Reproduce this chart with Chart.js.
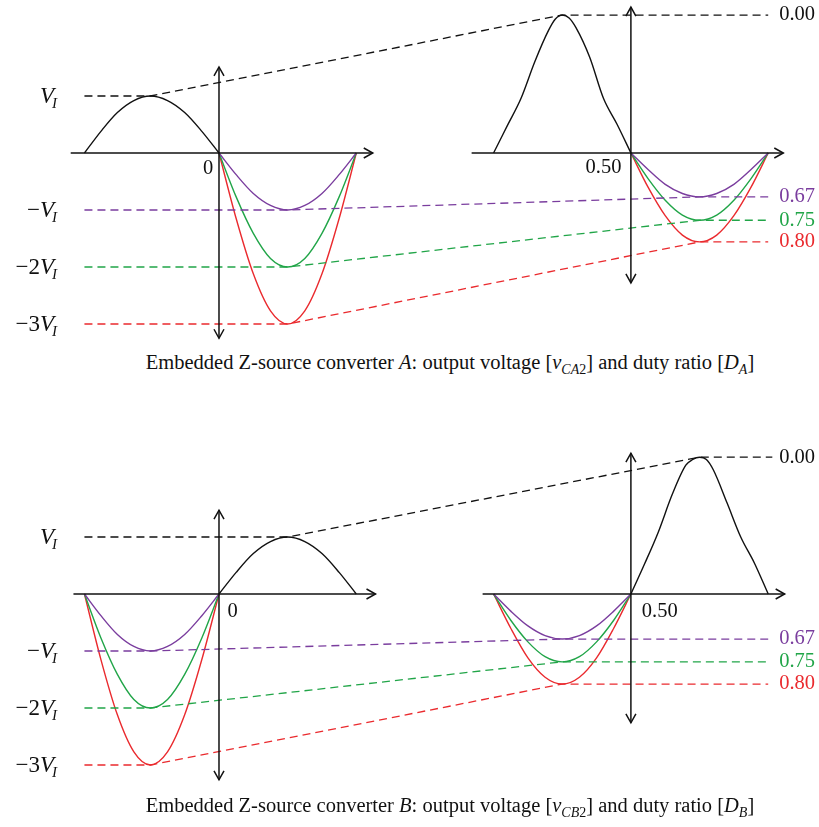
<!DOCTYPE html>
<html>
<head>
<meta charset="utf-8">
<script src="https://cdn.jsdelivr.net/npm/chart.js@4.4.1/dist/chart.umd.min.js"></script>
<style>
  body { margin: 0; background: #fff; width: 819px; height: 827px; position: relative; overflow: hidden; }
  canvas { position: absolute; left: 0; }
  #panel-a { top: 0; }
  #panel-b { top: 400px; }
  .caption { position: absolute; left: 0; width: 900px; text-align: center; font-family: "Liberation Serif", serif; font-size: 20.5px; color: #111; white-space: nowrap; }
  .caption sub { font-size: 14px; }
  #cap-a { top: 351px; }
  #cap-b { top: 794px; }
</style>
</head>
<body>
<canvas id="panel-a" width="819" height="350"></canvas>
<canvas id="panel-b" width="819" height="400"></canvas>
<div class="caption" id="cap-a">Embedded Z-source converter <i>A</i>: output voltage [<i>v</i><sub><i>CA</i>2</sub>] and duty ratio [<i>D</i><sub><i>A</i></sub>]</div>
<div class="caption" id="cap-b">Embedded Z-source converter <i>B</i>: output voltage [<i>v</i><sub><i>CB</i>2</sub>] and duty ratio [<i>D</i><sub><i>B</i></sub>]</div>
<script>
// x in half-periods (left plot origin at 0, duty plot origin at 3), y in units of V_I
const phaseNeg = [-0.98, -0.86, -0.74, -0.62, -0.5, -0.375, -0.25, -0.125, 0];
const phasePos = [0, 0.125, 0.25, 0.375, 0.5, 0.625, 0.75, 0.875, 1];
const phaseDutyNeg = [2, 2.125, 2.25, 2.375, 2.5, 2.625, 2.75, 2.875, 3];
const phaseDutyPos = [3, 3.125, 3.25, 3.375, 3.5, 3.625, 3.75, 3.875, 4];

const inputWave = [0, 0.38, 0.71, 0.92, 1, 0.92, 0.71, 0.38, 0];
const outPurple = [0, -0.38, -0.71, -0.92, -1, -0.92, -0.71, -0.38, 0];
const outGreen = [0, -0.77, -1.41, -1.85, -2, -1.85, -1.41, -0.77, 0];
const outRed = [0, -1.15, -2.12, -2.77, -3, -2.77, -2.12, -1.15, 0];

// duty-ratio plots
const dutyA_purple = [0, -0.29, -0.55, -0.71, -0.77, -0.71, -0.55, -0.29, 0];
const dutyA_green = [0, -0.45, -0.83, -1.09, -1.18, -1.09, -0.83, -0.45, 0];
const dutyA_red = [0, -0.6, -1.1, -1.44, -1.56, -1.44, -1.1, -0.6, 0];
const dutyB_purple = [0, -0.3, -0.56, -0.73, -0.79, -0.73, -0.56, -0.3, 0];
const dutyB_green = [0, -0.46, -0.84, -1.1, -1.19, -1.1, -0.84, -0.46, 0];
const dutyB_red = [0, -0.6, -1.12, -1.46, -1.58, -1.46, -1.12, -0.6, 0];

const bumpA_x = [2, 2.1, 2.2, 2.3, 2.4, 2.45, 2.5, 2.55, 2.6, 2.7, 2.8, 2.9, 3];
const bumpA_y = [0, 0.48, 0.96, 1.6, 2.15, 2.35, 2.42, 2.37, 2.2, 1.68, 0.96, 0.5, 0];
const bumpB_x = [3, 3.1, 3.2, 3.3, 3.4, 3.45, 3.5, 3.55, 3.6, 3.7, 3.8, 3.9, 4];
const bumpB_y = [0, 0.53, 1.09, 1.74, 2.26, 2.36, 2.4, 2.36, 2.18, 1.6, 1.0, 0.54, 0];

// dashed guide lines: level in left plot -> level in duty plot
const dutyLabels = ['0.00', '0.67', '0.75', '0.80'];
const guideA_x = [[-0.98, -0.5, 2.5, 4], [-0.98, 0.5, 3.5, 4], [-0.98, 0.5, 3.5, 4], [-0.98, 0.5, 3.5, 4]];
const guideA_y = [[1, 1, 2.42, 2.42], [-1, -1, -0.77, -0.77], [-2, -2, -1.18, -1.18], [-3, -3, -1.56, -1.56]];
const guideB_x = [[-0.98, 0.5, 3.5, 4.03], [-0.98, -0.5, 2.5, 4], [-0.98, -0.5, 2.5, 4], [-0.98, -0.5, 2.5, 4]];
const guideB_y = [[1, 1, 2.4, 2.4], [-1, -1, -0.79, -0.79], [-2, -2, -1.19, -1.19], [-3, -3, -1.58, -1.58]];

const levelTicks = [1, -1, -2, -3];
const levelPrefix = ['', '\u2212', '\u22122', '\u22123'];

const BLACK = '#111111';
const PURPLE = '#7a3d9e';
const GREEN = '#21a548';
const RED = '#ea2a2e';
const levelColors = [BLACK, PURPLE, GREEN, RED];

function pts(xs, ys) {
    return xs.map((x, i) => ({ x: x, y: ys[i] }));
}

function curve(xs, ys, color) {
    return {
        data: pts(xs, ys),
        borderColor: color,
        borderWidth: 1.4,
        pointRadius: 0,
        showLine: true,
        fill: false,
        cubicInterpolationMode: 'monotone'
    };
}

function guide(xs, ys, color) {
    return {
        data: pts(xs, ys),
        borderColor: color,
        borderWidth: 1.3,
        borderDash: [8, 5],
        pointRadius: 0,
        showLine: true,
        fill: false,
        tension: 0
    };
}

function arrowHead(ctx, tx, ty, fx, fy) {
    const len = Math.hypot(tx - fx, ty - fy);
    const dx = (tx - fx) / len, dy = (ty - fy) / len;
    const L = 9, W = 5;
    ctx.beginPath();
    ctx.moveTo(tx - L * dx - W * dy, ty - L * dy + W * dx);
    ctx.lineTo(tx, ty);
    ctx.lineTo(tx - L * dx + W * dy, ty - L * dy - W * dx);
    ctx.stroke();
}

// axes with arrows and all the figure's labels
const figurePlugin = {
    id: 'figure',
    afterDatasetsDraw(chart, args, opts) {
        const ctx = chart.ctx;
        const sx = chart.scales.x, sy = chart.scales.y;
        ctx.save();
        ctx.strokeStyle = BLACK;
        ctx.lineWidth = 1.5;
        opts.axes.forEach(a => {
            const x0 = sx.getPixelForValue(a[0]), y0 = sy.getPixelForValue(a[1]);
            const x1 = sx.getPixelForValue(a[2]), y1 = sy.getPixelForValue(a[3]);
            ctx.beginPath();
            ctx.moveTo(x0, y0);
            ctx.lineTo(x1, y1);
            ctx.stroke();
            arrowHead(ctx, x1, y1, x0, y0);
            if (a[4]) arrowHead(ctx, x0, y0, x1, y1);
        });

        // V_I level labels, right aligned
        ctx.fillStyle = BLACK;
        ctx.textBaseline = 'alphabetic';
        const right = sx.getPixelForValue(-1.18);
        levelTicks.forEach((v, i) => {
            const base = sy.getPixelForValue(v) + 7;
            ctx.font = '23px "Liberation Serif"';
            const wPre = ctx.measureText(levelPrefix[i]).width;
            ctx.font = 'italic 23px "Liberation Serif"';
            const wV = ctx.measureText('V').width;
            ctx.font = 'italic 15px "Liberation Serif"';
            const wI = ctx.measureText('I').width;
            let x = right - wI - wV - wPre + 2;
            ctx.font = '23px "Liberation Serif"';
            ctx.textAlign = 'left';
            ctx.fillText(levelPrefix[i], x, base);
            x += wPre;
            ctx.font = 'italic 23px "Liberation Serif"';
            ctx.fillText('V', x, base);
            x += wV - 2;
            ctx.font = 'italic 15px "Liberation Serif"';
            ctx.fillText('I', x, base + 5);
        });

        // duty ratio labels
        ctx.font = '20.5px "Liberation Serif"';
        ctx.textAlign = 'left';
        ctx.textBaseline = 'middle';
        opts.dutyLevels.forEach((v, i) => {
            ctx.fillStyle = levelColors[i];
            ctx.fillText(dutyLabels[i], sx.getPixelForValue(4.08), sy.getPixelForValue(v));
        });

        // origin labels
        ctx.fillStyle = BLACK;
        ctx.textAlign = 'center';
        opts.marks.forEach(m => {
            ctx.fillText(m[0], sx.getPixelForValue(m[1]), sy.getPixelForValue(m[2]));
        });
        ctx.restore();
    }
};

function makePanel(id, yMin, yMax, datasets, opts) {
    return new Chart(document.getElementById(id), {
        type: 'scatter',
        data: { datasets: datasets },
        options: {
            responsive: false,
            animation: false,
            layout: { padding: 0 },
            scales: {
                x: { type: 'linear', min: -1.595, max: 4.37, display: false },
                y: { type: 'linear', min: yMin, max: yMax, display: false }
            },
            plugins: {
                legend: { display: false },
                tooltip: { enabled: false },
                figure: opts
            }
        },
        plugins: [figurePlugin]
    });
}

const datasetsA = [
    guide(guideA_x[0], guideA_y[0], BLACK),
    guide(guideA_x[1], guideA_y[1], PURPLE),
    guide(guideA_x[2], guideA_y[2], GREEN),
    guide(guideA_x[3], guideA_y[3], RED),
    curve(phaseNeg, inputWave, BLACK),
    curve(phasePos, outPurple, PURPLE),
    curve(phasePos, outGreen, GREEN),
    curve(phasePos, outRed, RED),
    curve(bumpA_x, bumpA_y, BLACK),
    curve(phaseDutyPos, dutyA_purple, PURPLE),
    curve(phaseDutyPos, dutyA_green, GREEN),
    curve(phaseDutyPos, dutyA_red, RED)
];

const datasetsB = [
    guide(guideB_x[0], guideB_y[0], BLACK),
    guide(guideB_x[1], guideB_y[1], PURPLE),
    guide(guideB_x[2], guideB_y[2], GREEN),
    guide(guideB_x[3], guideB_y[3], RED),
    curve(phasePos, inputWave, BLACK),
    curve(phaseNeg, outPurple, PURPLE),
    curve(phaseNeg, outGreen, GREEN),
    curve(phaseNeg, outRed, RED),
    curve(bumpB_x, bumpB_y, BLACK),
    curve(phaseDutyNeg, dutyB_purple, PURPLE),
    curve(phaseDutyNeg, dutyB_green, GREEN),
    curve(phaseDutyNeg, dutyB_red, RED)
];

makePanel('panel-a', -3.456, 2.684, datasetsA, {
    axes: [
        [-1.08, 0, 1.12, 0, false],
        [0, -3.25, 0, 1.51, true],
        [1.84, 0, 4.11, 0, false],
        [3, -2.28, 3, 2.56, true]
    ],
    dutyLevels: guideA_y.map(g => g[3]),
    marks: [['0', -0.08, -0.28], ['0.50', 2.8, -0.26]]
});

makePanel('panel-b', -3.614, 3.404, datasetsB, {
    axes: [
        [-1.06, 0, 1.14, 0, false],
        [0, -3.26, 0, 1.47, true],
        [1.92, 0, 4.12, 0, false],
        [3, -2.26, 3, 2.47, true]
    ],
    dutyLevels: guideB_y.map(g => g[3]),
    marks: [['0', 0.1, -0.3], ['0.50', 3.21, -0.3]]
});
</script>
</body>
</html>
